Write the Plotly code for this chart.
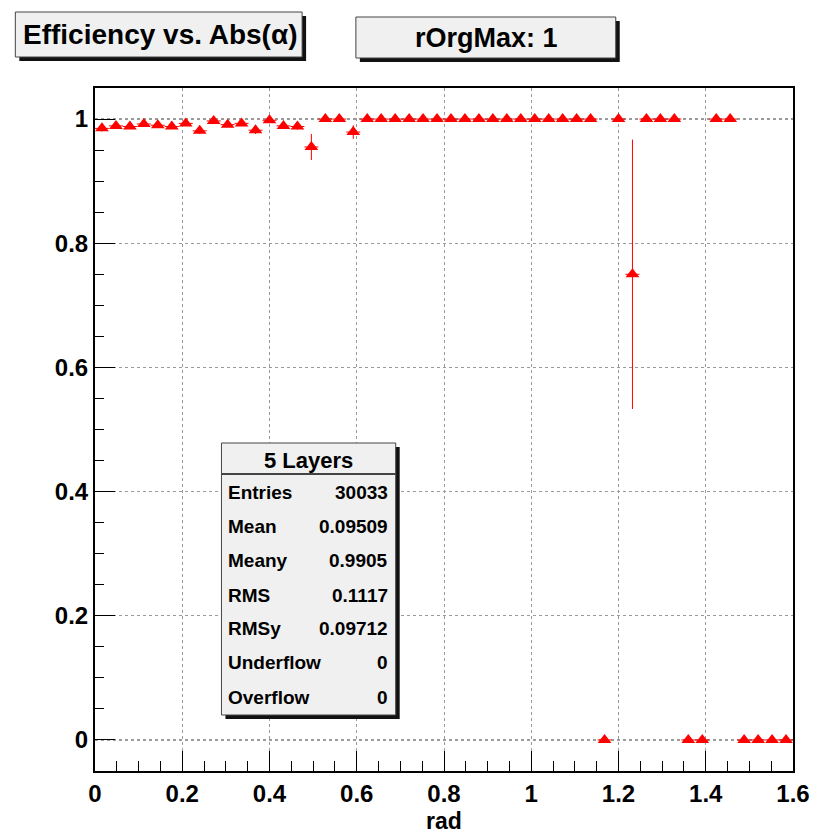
import plotly.graph_objects as go

# ---------------- data ----------------
rad_bins = [0.016, 0.048, 0.080, 0.112, 0.144, 0.176, 0.208, 0.240, 0.272, 0.304,
            0.336, 0.368, 0.400, 0.432, 0.464, 0.496, 0.528, 0.560, 0.592, 0.624,
            0.656, 0.688, 0.720, 0.752, 0.784, 0.816, 0.848, 0.880, 0.912, 0.944,
            0.976, 1.008, 1.040, 1.072, 1.104, 1.136, 1.168, 1.200, 1.232, 1.264,
            1.296, 1.328, 1.360, 1.392, 1.424, 1.456, 1.488, 1.520, 1.552, 1.584]

efficiency = [0.985, 0.989, 0.988, 0.992, 0.990, 0.988, 0.993, 0.981, 0.997, 0.991,
              0.993, 0.982, 0.998, 0.989, 0.988, 0.955, 1.000, 1.000, 0.979, 1.000,
              1.000, 1.000, 1.000, 1.000, 1.000, 1.000, 1.000, 1.000, 1.000, 1.000,
              1.000, 1.000, 1.000, 1.000, 1.000, 1.000, 0.000, 1.000, 0.750, 1.000,
              1.000, 1.000, 0.000, 0.000, 1.000, 1.000, 0.000, 0.000, 0.000, 0.000]

efficiency_err = [0.005, 0.004, 0.004, 0.004, 0.004, 0.004, 0.004, 0.005, 0.003, 0.004,
                  0.004, 0.006, 0.002, 0.005, 0.005, 0.021, 0.000, 0.000, 0.011, 0.000,
                  0.000, 0.000, 0.000, 0.000, 0.000, 0.000, 0.000, 0.000, 0.000, 0.000,
                  0.000, 0.000, 0.000, 0.000, 0.000, 0.000, 0.000, 0.000, 0.217, 0.000,
                  0.000, 0.000, 0.000, 0.000, 0.000, 0.000, 0.000, 0.000, 0.000, 0.000]

bin_half_width = 0.016

stats_title = "5 Layers"
stats_labels = ["Entries", "Mean", "Meany", "RMS", "RMSy", "Underflow", "Overflow"]
stats_values = ["30033", "0.09509", "0.9905", "0.1117", "0.09712", "0", "0"]

title_text = "Efficiency vs. Abs(α)"
subtitle_text = "rOrgMax: 1"
x_title = "rad"
reference_levels = [0, 1]

# ---------------- layout helpers ----------------
W, H = 822, 835
L, R, T, B = 95, 26, 88, 64
PW, PH = W - L - R, H - T - B
FONT = "Liberation Sans, Arial, Helvetica, sans-serif"


def px(xp):
    return (xp - L) / PW


def py(yp):
    return (H - B - yp) / PH


fig = go.Figure()
fig.add_trace(go.Scatter(
    x=rad_bins, y=efficiency, mode="markers",
    marker=dict(symbol="triangle-up", size=12, color="#ff0000"),
    error_y=dict(type="data", array=efficiency_err, color="#ff0000", thickness=1, width=0),
    error_x=dict(type="constant", value=bin_half_width, color="#ff0000", thickness=1, width=0),
    showlegend=False,
))

shapes = []
for lv in reference_levels:
    shapes.append(dict(type="line", xref="x", yref="y", x0=0, x1=1.6, y0=lv, y1=lv,
                       line=dict(color="#222222", width=1, dash="dot"), layer="below"))


def box(x0, y0, x1, y1, shadow=4):
    shapes.append(dict(type="rect", xref="paper", yref="paper",
                       x0=px(x0 + shadow), x1=px(x1 + shadow), y0=py(y1 + shadow), y1=py(y0 + shadow),
                       fillcolor="#111111", line=dict(width=0), layer="above"))
    shapes.append(dict(type="rect", xref="paper", yref="paper",
                       x0=px(x0), x1=px(x1), y0=py(y1), y1=py(y0),
                       fillcolor="#f0f0f0", line=dict(color="#444444", width=1), layer="above"))


annotations = []

# title boxes
box(15, 12, 303, 57)
annotations.append(dict(text=f"<b>{title_text}</b>", xref="paper", yref="paper",
                        x=px(160), y=py(35), xanchor="center", yanchor="middle", showarrow=False,
                        font=dict(family=FONT, size=28, color="black")))
box(357, 17, 618, 58)
annotations.append(dict(text=f"<b>{subtitle_text}</b>", xref="paper", yref="paper",
                        x=px(488), y=py(38), xanchor="center", yanchor="middle", showarrow=False,
                        font=dict(family=FONT, size=27, color="black")))

# stats box
box(222, 443, 397, 715)
shapes.append(dict(type="line", xref="paper", yref="paper", x0=px(222), x1=px(397),
                   y0=py(474), y1=py(474), line=dict(color="#444444", width=2), layer="above"))
annotations.append(dict(text=f"<b>{stats_title}</b>", xref="paper", yref="paper",
                        x=px(309.5), y=py(460), xanchor="center", yanchor="middle", showarrow=False,
                        font=dict(family=FONT, size=22, color="black")))
row_y = [492, 526, 560, 595, 628, 662, 697]
for lab, val, yy in zip(stats_labels, stats_values, row_y):
    annotations.append(dict(text=f"<b>{lab}</b>", xref="paper", yref="paper",
                            x=px(227), y=py(yy), xanchor="left", yanchor="middle", showarrow=False,
                            font=dict(family=FONT, size=19, color="black")))
    annotations.append(dict(text=f"<b>{val}</b>", xref="paper", yref="paper",
                            x=px(391), y=py(yy), xanchor="right", yanchor="middle", showarrow=False,
                            font=dict(family=FONT, size=19, color="black")))

# x-axis title
annotations.append(dict(text=f"<b>{x_title}</b>", xref="paper", yref="paper",
                        x=0.5, y=py(821), xanchor="center", yanchor="middle", showarrow=False,
                        font=dict(family=FONT, size=23, color="black")))

axis_common = dict(
    showline=True, linecolor="black", linewidth=2, mirror=True,
    ticks="inside", ticklen=20, tickwidth=1, tickcolor="black",
    showgrid=True, gridcolor="#9a9a9a", griddash="dot", gridwidth=1,
    zeroline=False,
    tickfont=dict(family=FONT, size=24, color="black", weight="bold"),
)

fig.update_layout(
    width=W, height=H,
    margin=dict(l=L, r=R, t=T, b=B),
    paper_bgcolor="white", plot_bgcolor="white",
    xaxis=dict(range=[0, 1.6], tick0=0, dtick=0.2,
               minor=dict(dtick=0.05, ticklen=10, ticks="inside", tickcolor="black", showgrid=False),
               **axis_common),
    yaxis=dict(range=[-0.05, 1.05], tick0=0, dtick=0.2,
               minor=dict(dtick=0.05, ticklen=9, ticks="inside", tickcolor="black", showgrid=False),
               **axis_common),
    shapes=shapes,
    annotations=annotations,
)

fig.write_html("out.html", config={"displayModeBar": False},
               post_script="document.body.style.margin='0px';")
